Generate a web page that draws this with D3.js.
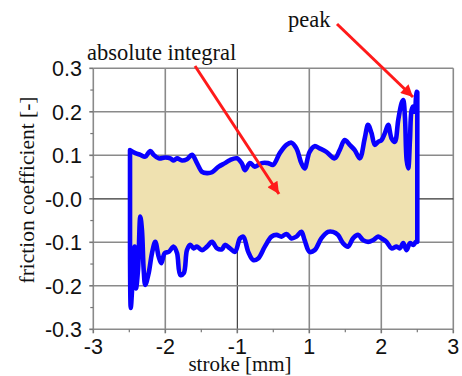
<!DOCTYPE html>
<html><head><meta charset="utf-8">
<script src="https://cdn.jsdelivr.net/npm/d3@7/dist/d3.min.js"></script>
<style>html,body{margin:0;padding:0;background:#fff}svg{display:block}</style>
</head><body>
<script>
// ---- data ----
const xTicks = [-3, -2, -1, 1, 2, 3];
const xTickLabels = ["-3", "-2", "-1", "1", "2", "3"];
const yTicks = [0.3, 0.2, 0.1, 0.0, -0.1, -0.2, -0.3];
const yTickLabels = ["0.3", "0.2", "0.1", "-0.0", "-0.1", "-0.2", "-0.3"];

// upper branch (left -> right): [stroke mm, friction coefficient]
const upperX = [-2.49,-2.417,-2.347,-2.278,-2.208,-2.161,-2.092,-2.0,-1.931,-1.883,-1.837,-1.768,-1.699,-1.629,-1.56,-1.49,-1.421,-1.351,-1.258,-1.171,-1.101,-1.008,
  -0.878,-0.787,-0.649,-0.511,-0.326,-0.144,-0.006,0.18,0.365,0.503,0.641,0.779,0.87,
  1.004,1.074,1.143,1.237,1.352,1.422,1.492,1.561,1.631,1.701,1.77,1.816,1.864,1.91,1.956,2.003,2.05,2.096,2.142,2.188,2.235,2.282,2.304,2.328,2.352,2.374,2.398,2.421,2.443,2.467,2.49,2.5];
const upperY = [0.112,0.105,0.101,0.097,0.110,0.101,0.093,0.095,0.093,0.088,0.093,0.088,0.091,0.101,0.082,0.062,0.059,0.061,0.074,0.082,0.089,0.093,
  0.082,0.066,0.082,0.074,0.082,0.082,0.078,0.105,0.124,0.129,0.116,0.082,0.070,
  0.108,0.121,0.116,0.108,0.093,0.112,0.135,0.124,0.112,0.093,0.139,0.170,0.151,0.124,0.131,0.135,0.151,0.170,0.139,0.131,0.181,0.220,0.227,0.189,0.089,0.070,0.135,0.204,0.212,0.200,0.246,0.245];

// lower branch (left -> right)
const lowerX = [-2.49,-2.48,-2.462,-2.449,-2.425,-2.407,-2.379,-2.347,-2.324,-2.3,-2.278,-2.231,-2.185,-2.139,-2.092,-2.056,-2.008,-1.953,-1.883,-1.837,-1.792,-1.744,-1.699,-1.653,-1.606,-1.56,-1.49,-1.421,-1.351,-1.282,-1.213,-1.171,-1.101,-1.032,
  -0.925,-0.834,-0.696,-0.558,-0.42,-0.235,-0.05,0.088,0.227,0.365,0.503,0.641,0.779,0.87,
  1.004,1.074,1.167,1.259,1.329,1.398,1.468,1.538,1.607,1.677,1.747,1.816,1.886,1.956,2.003,2.073,2.142,2.212,2.258,2.304,2.352,2.398,2.443,2.481,2.5];
const lowerY = [-0.102,-0.251,-0.210,-0.145,-0.110,-0.206,-0.164,-0.041,-0.072,-0.164,-0.198,-0.171,-0.125,-0.099,-0.133,-0.148,-0.125,-0.122,-0.110,-0.125,-0.175,-0.171,-0.118,-0.106,-0.114,-0.110,-0.118,-0.110,-0.099,-0.114,-0.116,-0.106,-0.114,-0.122,
  -0.091,-0.087,-0.122,-0.141,-0.137,-0.110,-0.087,-0.083,-0.087,-0.081,-0.091,-0.087,-0.076,-0.095,
  -0.122,-0.118,-0.091,-0.076,-0.076,-0.083,-0.102,-0.110,-0.091,-0.083,-0.095,-0.099,-0.095,-0.087,-0.091,-0.099,-0.114,-0.110,-0.114,-0.102,-0.118,-0.102,-0.106,-0.099,-0.099];

// ---- layout ----
const W = 462, H = 376;
const pLeft = 93.3, pRight = 453.3, pTop = 68.3, pBottom = 329.3;

const svg = d3.select("body").append("svg").attr("width", W).attr("height", H);

const step = (pRight - pLeft) / (xTicks.length - 1);
const x = d3.scaleLinear().domain(xTicks).range(xTicks.map((d, i) => pLeft + i * step));
const y = d3.scaleLinear().domain([-0.3, 0.3]).range([pBottom, pTop]);

// grid
const g = svg.append("g");
g.selectAll(".vg").data(xTicks).join("line")
  .attr("x1", d => x(d)).attr("x2", d => x(d)).attr("y1", pTop).attr("y2", pBottom)
  .attr("stroke", d => d === -1 ? "#1a1a1a" : "#8a8a8a")
  .attr("stroke-width", d => d === -1 ? 1 : 1.6);
g.selectAll(".hg").data(yTicks).join("line")
  .attr("x1", pLeft).attr("x2", pRight).attr("y1", d => y(d)).attr("y2", d => y(d))
  .attr("stroke", d => d === 0 ? "#333" : "#8a8a8a")
  .attr("stroke-width", d => d === 0 ? 1.2 : 1.6);

// minor ticks
const xMinor = d3.pairs(xTicks).map(([a, b]) => (a + b) / 2);
const yMinor = d3.pairs(yTicks).map(([a, b]) => (a + b) / 2);
g.selectAll(".xm").data(xMinor).join("line")
  .attr("x1", d => x(d)).attr("x2", d => x(d)).attr("y1", pBottom).attr("y2", pBottom + 3)
  .attr("stroke", "#777").attr("stroke-width", 1.2);
g.selectAll(".xM").data(xTicks).join("line")
  .attr("x1", d => x(d)).attr("x2", d => x(d)).attr("y1", pBottom).attr("y2", pBottom + 4)
  .attr("stroke", "#777").attr("stroke-width", 1.6);
g.selectAll(".ym").data(yMinor).join("line")
  .attr("x1", pLeft - 3).attr("x2", pLeft).attr("y1", d => y(d)).attr("y2", d => y(d))
  .attr("stroke", "#777").attr("stroke-width", 1.2);
g.selectAll(".yM").data(yTicks).join("line")
  .attr("x1", pLeft - 4).attr("x2", pLeft).attr("y1", d => y(d)).attr("y2", d => y(d))
  .attr("stroke", "#777").attr("stroke-width", 1.6);

// loop: smooth upper and lower branches joined by straight vertical ends
const upper = upperX.map((d, i) => [d, upperY[i]]);
const lower = lowerX.map((d, i) => [d, lowerY[i]]);
const branch = d3.line().x(d => x(d[0])).y(d => y(d[1])).curve(d3.curveCatmullRom.alpha(0.5));
const loopD = branch(upper) + branch(lower.slice().reverse()).replace(/^M/, "L") + "Z";
svg.append("path").attr("d", loopD)
  .attr("fill", "#efe1b0").attr("stroke", "#0a00ff").attr("stroke-width", 4.6)
  .attr("stroke-linejoin", "round");

// tick labels
svg.selectAll(".xl").data(xTicks).join("text")
  .attr("x", d => x(d)).attr("y", 354).attr("text-anchor", "middle")
  .attr("font-family", "Liberation Sans, Arial, sans-serif").attr("font-size", 21.5).attr("fill", "#111")
  .text((d, i) => xTickLabels[i]);
svg.selectAll(".yl").data(yTicks).join("text")
  .attr("x", 82).attr("y", d => y(d)).attr("dy", "0.36em").attr("text-anchor", "end")
  .attr("font-family", "Liberation Sans, Arial, sans-serif").attr("font-size", 21.5).attr("fill", "#111")
  .text((d, i) => yTickLabels[i]);

// titles
const serif = "Liberation Serif, Times New Roman, serif";
svg.append("text").attr("transform", "translate(34,190) rotate(-90)").attr("text-anchor", "middle")
  .attr("font-family", serif).attr("font-size", 21.5).attr("fill", "#111").text("friction coefficient [-]");
svg.append("text").attr("x", 240).attr("y", 371).attr("text-anchor", "middle")
  .attr("font-family", serif).attr("font-size", 21).attr("fill", "#111").text("stroke [mm]");

// annotations
svg.append("defs").append("marker").attr("id", "ah")
  .attr("viewBox", "0 0 10 10").attr("refX", 10).attr("refY", 5)
  .attr("markerWidth", 4.5).attr("markerHeight", 4).attr("markerUnits", "strokeWidth")
  .attr("orient", "auto")
  .append("path").attr("d", "M0,0L10,5L0,10z").attr("fill", "#ff1a1a");
svg.append("text").attr("x", 288).attr("y", 27).attr("font-family", serif).attr("font-size", 22.5).attr("fill", "#111").text("peak");
svg.append("text").attr("x", 87).attr("y", 60).attr("font-family", serif).attr("font-size", 22.5).attr("fill", "#111").text("absolute integral");
svg.append("line").attr("x1", 337).attr("y1", 24).attr("x2", 413).attr("y2", 97)
  .attr("stroke", "#ff1a1a").attr("stroke-width", 3).attr("marker-end", "url(#ah)");
svg.append("line").attr("x1", 195).attr("y1", 66).attr("x2", 279).attr("y2", 194)
  .attr("stroke", "#ff1a1a").attr("stroke-width", 3).attr("marker-end", "url(#ah)");
</script>
</body></html>
